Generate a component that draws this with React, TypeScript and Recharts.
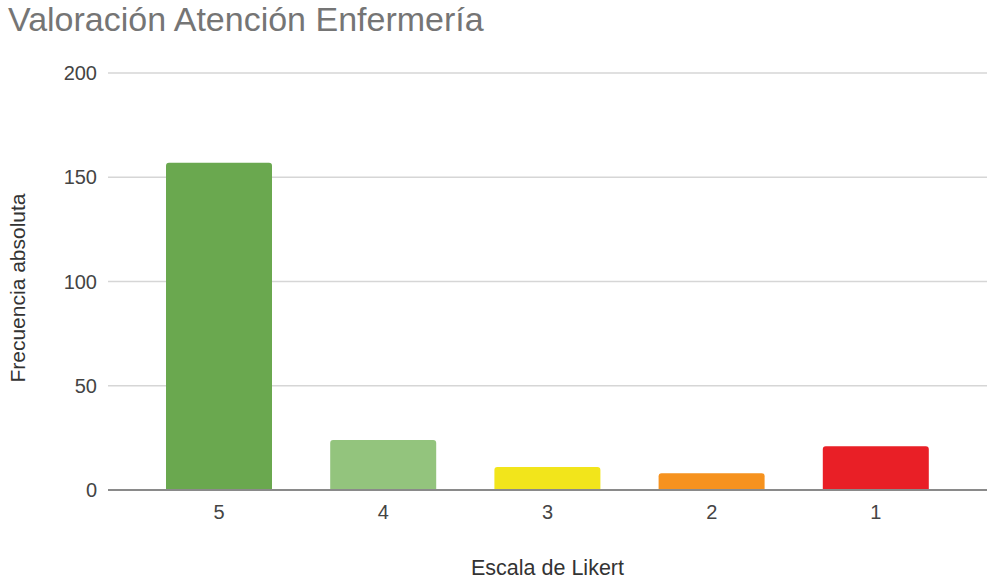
import { Bar, BarChart, CartesianGrid, Cell, Label, XAxis, YAxis } from "recharts"

const categories = ["5", "4", "3", "2", "1"]
const values = [157, 24, 11, 8, 21]
const colors = ["#6aa84f", "#93c47d", "#f2e51b", "#f6921e", "#e91f26"]
const yTicks = [0, 50, 100, 150, 200]

const data = categories.map((name, i) => ({ name, value: values[i] }))

const font = "'Liberation Sans', Arial, sans-serif"

export default function App() {
  return (
    <div style={{ position: "absolute", left: 0, top: 0, width: 992, height: 582, background: "#fff", fontFamily: font }}>
      <div
        style={{
          position: "absolute",
          left: 8,
          top: 0,
          fontSize: 34,
          color: "#757575",
          whiteSpace: "nowrap",
        }}
      >
        Valoración Atención Enfermería
      </div>
      <BarChart
        width={992}
        height={582}
        data={data}
        margin={{ top: 73, right: 5, bottom: 0, left: 0 }}
        style={{ fontFamily: font }}
      >
        <CartesianGrid vertical={false} stroke="#d6d6d6" strokeWidth={1.5} />
        <XAxis
          dataKey="name"
          height={92}
          padding={{ left: 29, right: 29 }}
          tickLine={false}
          tickSize={0}
          tickMargin={15}
          axisLine={{ stroke: "#8a8a8a", strokeWidth: 2 }}
          tick={{ fill: "#444", fontSize: 20 }}
        >
          <Label value="Escala de Likert" position="insideBottom" offset={7} fill="#333" fontSize={21.5} />
        </XAxis>
        <YAxis
          width={108}
          domain={[0, 200]}
          ticks={yTicks}
          tickLine={false}
          axisLine={false}
          tickSize={0}
          tickMargin={11}
          tick={{ fill: "#444", fontSize: 20 }}
        >
          <Label
            content={({ viewBox }: any) => (
              <text
                x={viewBox.x + 25}
                y={288}
                transform={`rotate(-90, ${viewBox.x + 25}, 288)`}
                textAnchor="middle"
                fill="#333"
                fontSize={21}
              >
                Frecuencia absoluta
              </text>
            )}
          />
        </YAxis>
        <Bar dataKey="value" barSize={106} radius={[3, 3, 0, 0]} isAnimationActive={false}>
          {data.map((entry, index) => (
            <Cell key={`cell-${index}`} fill={colors[index]} />
          ))}
        </Bar>
      </BarChart>
    </div>
  )
}
